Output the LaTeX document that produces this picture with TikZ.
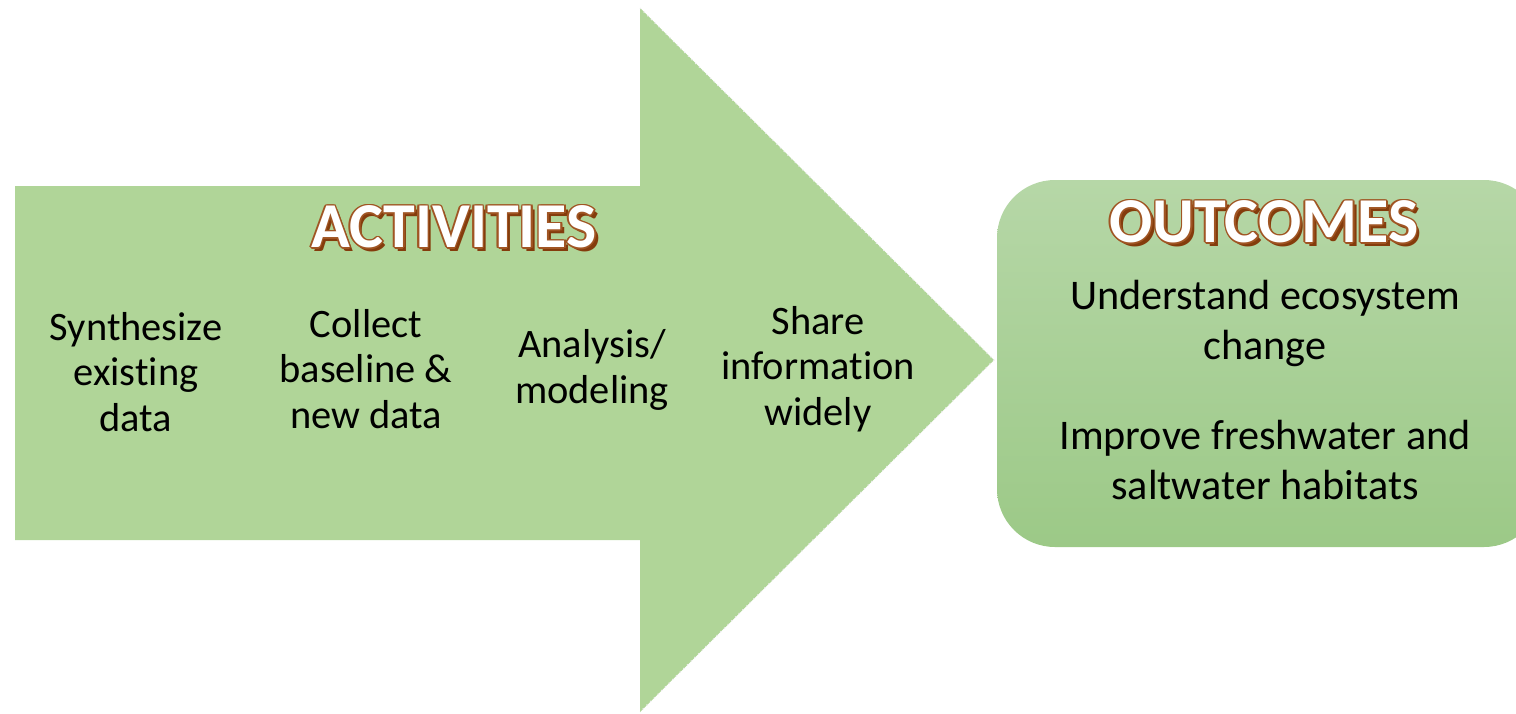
\documentclass[tikz,border=0pt]{standalone}
\usepackage{fontspec}
\setmainfont{Carlito}[Ligatures={NoCommon,NoContextual},RawFeature={-liga;-clig}]
\usetikzlibrary{calc}
\definecolor{arrowgreen}{RGB}{176,213,152}
\definecolor{boxtop}{RGB}{182,215,167}
\definecolor{boxbot}{RGB}{156,201,135}
\definecolor{tbrown}{RGB}{132,60,12}
\definecolor{tbrownl}{RGB}{160,85,35}
\tikzset{
  body/.style={font=\fontsize{20.2}{22.7}\selectfont, align=center, text=black, inner sep=0pt},
  obody/.style={font=\fontsize{21.1}{25}\selectfont, align=center, text=black, inner sep=0pt},
  ttl/.style={font=\bfseries\fontsize{32}{34}\selectfont, inner sep=0pt},
}
\newcommand\fancytitle[3]{%
  \node[ttl, text=tbrown] at ($(#2)+(3.5,3.5)$) {#3};
  \foreach \dx/\dy in {1.7/0,-1.7/0,0/1.7,0/-1.7,1.2/1.2,-1.2/1.2,1.2/-1.2,-1.2/-1.2}
    \node[ttl, text=tbrownl] at ($(#2)+(\dx,\dy)$) {#3};
  \node[ttl, text=white] (#1) at (#2) {#3};
}
\begin{document}
\begin{tikzpicture}[x=0.5pt,y=-0.5pt]
\useasboundingbox (0,0) rectangle (1516,713);
\begin{scope}
\clip (0,0) rectangle (1516,713);
% big arrow
\fill[arrowgreen] (15,186) -- (640,186) -- (640,8) -- (994,360) -- (640,712) -- (640,540) -- (15,540) -- cycle;
\draw[white!85!gray, line width=0.6pt, dotted] (640,8) -- (994,360) -- (640,712);
% outcomes box
\shade[top color=boxtop, bottom color=boxbot, rounded corners=29pt] (997,180) rectangle (1542,547);
\end{scope}
% titles
\coordinate (actpos) at (454,227);
\coordinate (outpos) at (1264,222);
\fancytitle{activities}{actpos}{ACTIVITIES}
\fancytitle{outcomes}{outpos}{OUTCOMES}
% activity texts
\node[body] (synth) at (136,372) {Synthesize\\existing\\data};
\node[body] (collect) at (366,369) {Collect\\baseline \&\\new data};
\node[body] (analysis) at (592,370) {Analysis/\\modeling};
\node[body] (share) at (818,369) {Share\\information\\widely};
% outcome texts
\node[obody] (understand) at (1265,323) {Understand ecosystem\\change};
\node[obody] (improve) at (1265,460) {Improve freshwater and\\saltwater habitats};
\end{tikzpicture}
\end{document}
